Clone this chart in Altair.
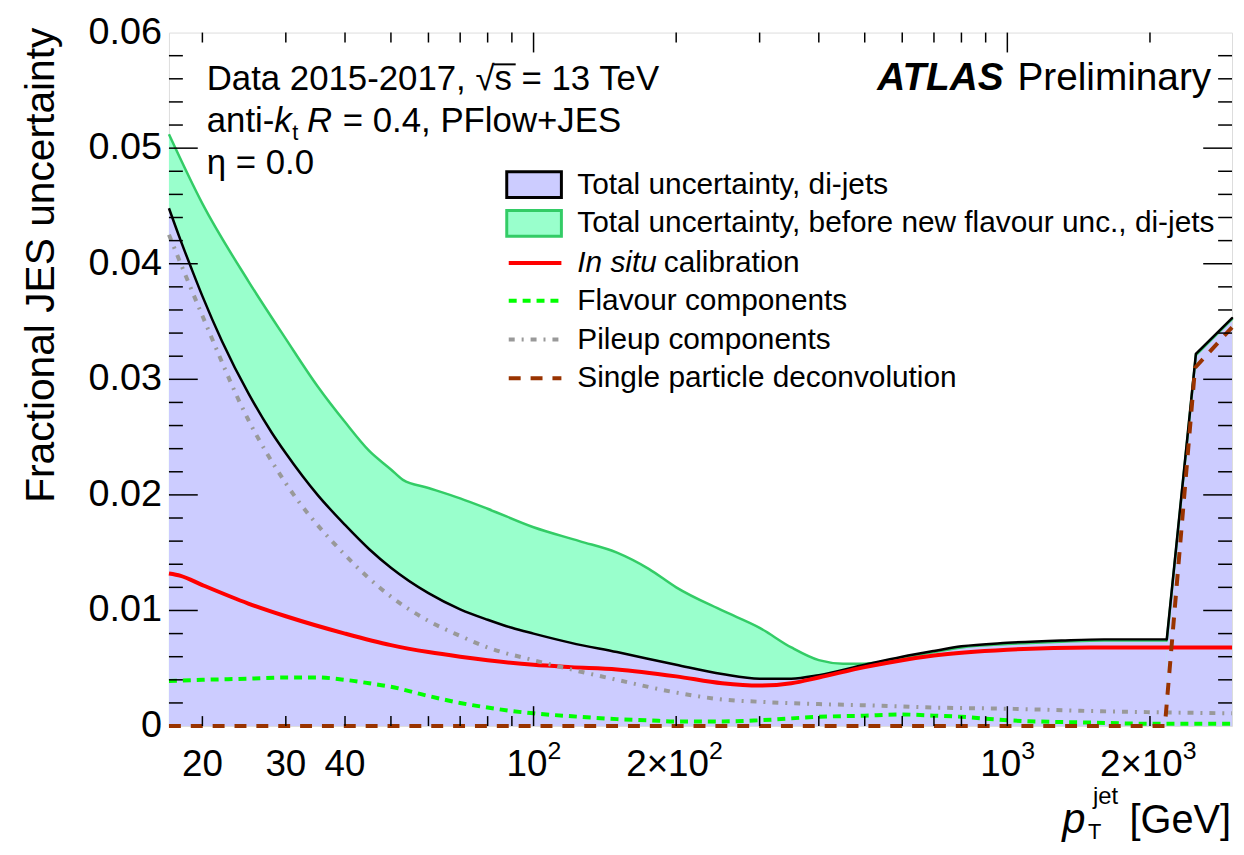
import altair as alt
import pandas as pd

FONT = "Liberation Sans"
W, H = 1070, 698

# ---------------- data ----------------
pt_total = [17, 18, 19, 20, 22, 25, 28, 30, 35, 40, 45, 50, 60, 70, 80, 90, 100, 120, 150, 200, 250, 300,
            350, 400, 500, 600, 700, 800, 1000, 1300, 1600, 2000, 2170, 2500, 2980]
total = [0.0448, 0.0420, 0.0395, 0.0372, 0.0333, 0.0288, 0.0254, 0.0236, 0.0200, 0.0174, 0.0153, 0.0137,
         0.0115, 0.0101, 0.0092, 0.0085, 0.0080, 0.0072, 0.0064, 0.0053, 0.0045, 0.0041, 0.0041, 0.0044,
         0.0053, 0.0060, 0.0065, 0.0069, 0.0072, 0.0074, 0.0075, 0.0075, 0.0075, 0.0322, 0.0353]

pt_before = [17, 20, 25, 30, 35, 40, 45, 50, 53, 60, 70, 80, 100, 125, 150, 175, 200, 250, 300, 350, 400,
             450, 500, 600, 700, 800, 1000, 1300, 1600, 2000, 2170, 2500, 2980]
before = [0.0512, 0.0452, 0.0385, 0.0335, 0.0294, 0.0263, 0.0238, 0.0222, 0.0213, 0.0206, 0.0197, 0.0188,
          0.0172, 0.0160, 0.0150, 0.0136, 0.0120, 0.0100, 0.0085, 0.0068, 0.0057, 0.0054, 0.0054, 0.0059,
          0.0064, 0.0068, 0.0071, 0.0073, 0.0074, 0.0074, 0.0074, 0.0321, 0.0352]

pt_insitu = [17, 18, 20, 25, 30, 40, 50, 60, 70, 80, 100, 120, 150, 200, 250, 300, 350, 400, 500, 600, 700,
             1000, 1500, 2000, 2980]
insitu = [0.0132, 0.0130, 0.0122, 0.0106, 0.0095, 0.0080, 0.0070, 0.0064, 0.0060, 0.0057, 0.0053, 0.0051,
          0.0049, 0.0043, 0.0037, 0.0035, 0.0037, 0.0042, 0.0051, 0.0057, 0.0061, 0.0066, 0.0068, 0.0068,
          0.0068]

pt_flavour = [17, 20, 25, 30, 35, 40, 45, 50, 60, 70, 80, 90, 100, 125, 150, 175, 200, 250, 300, 400, 500,
              600, 700, 800, 1000, 1500, 2000, 2980]
flavour = [0.0039, 0.0040, 0.0041, 0.0042, 0.0042, 0.0040, 0.0037, 0.0034, 0.0026, 0.0020, 0.0016, 0.0013,
           0.0011, 0.0008, 0.0006, 0.0005, 0.0004, 0.0004, 0.0005, 0.0008, 0.0009, 0.0010, 0.0009, 0.0008,
           0.0005, 0.0003, 0.0002, 0.0002]

pt_pileup = [17, 20, 25, 30, 40, 50, 60, 70, 80, 100, 120, 150, 200, 250, 300, 400, 500, 700, 1000, 1500,
             2000, 2980]
pileup = [0.0425, 0.0355, 0.0265, 0.0210, 0.0148, 0.0112, 0.0091, 0.0078, 0.0068, 0.0057, 0.0049, 0.0040,
          0.0029, 0.0023, 0.0021, 0.0019, 0.0018, 0.0016, 0.0015, 0.0013, 0.0012, 0.0011]

pt_spd = [17, 2150, 2490, 2980]
spd = [0.0, 0.0, 0.0310, 0.0345]

KINK = 2170  # above this pT the totals rise in straight segments

# axis ticks / labels
x_plain_vals = [20, 30, 40]
x_plain_text = ["20", "30", "40"]
x_pow_vals = [100, 1000]
x_pow_exp = ["2", "3"]
x_two_vals = [200, 2000]
x_two_exp = ["2", "3"]
x_major_ticks = [100, 1000]
x_minor_ticks = [20, 30, 40, 50, 60, 70, 80, 90, 200, 300, 400, 500, 600, 700, 800, 900, 2000]
y_label_vals = [0.0, 0.01, 0.02, 0.03, 0.04, 0.05, 0.06]
y_label_text = ["0", "0.01", "0.02", "0.03", "0.04", "0.05", "0.06"]
y_minor_ticks = [round(0.002 * i, 3) for i in range(1, 30) if i % 5 != 0]

legend_labels = ["Total uncertainty, di-jets",
                 "Total uncertainty, before new flavour unc., di-jets",
                 "calibration",
                 "Flavour components",
                 "Pileup components",
                 "Single particle deconvolution"]

# ---------------- chart ----------------
xs = alt.Scale(type="log", domain=[17, 2980], nice=False)
ys = alt.Scale(domain=[0, 0.06], nice=False, zero=False)


def sdf(pt, v):
    return pd.DataFrame({"pt": pt, "v": v})


def XE():
    return alt.X("pt:Q", scale=xs, axis=None)


def YE():
    return alt.Y("v:Q", scale=ys, axis=None)


def split(pt, v):
    d = sdf(pt, v)
    return d[d.pt <= KINK], d[d.pt >= KINK]


def area_pair(pt, v, color):
    lo, hi = split(pt, v)
    return [alt.Chart(lo).mark_area(color=color, interpolate="monotone").encode(XE(), YE()),
            alt.Chart(hi).mark_area(color=color).encode(XE(), YE())]


def line_pair(pt, v, color, width):
    lo, hi = split(pt, v)
    return [alt.Chart(lo).mark_line(color=color, strokeWidth=width, interpolate="monotone").encode(XE(), YE()),
            alt.Chart(hi).mark_line(color=color, strokeWidth=width, strokeCap="round").encode(XE(), YE())]


layers = []
layers += area_pair(pt_before, before, "#99ffcc")
layers += area_pair(pt_total, total, "#ccccff")
layers += line_pair(pt_before, before, "#33cc66", 2.5)
layers += line_pair(pt_total, total, "black", 2.5)
layers.append(alt.Chart(sdf(pt_insitu, insitu)).mark_line(color="#ff0000", strokeWidth=4,
                                                         interpolate="monotone").encode(XE(), YE()))
layers.append(alt.Chart(sdf(pt_flavour, flavour)).mark_line(color="#00ff00", strokeWidth=4, strokeDash=[8, 6],
                                                           interpolate="monotone").encode(XE(), YE()))
layers.append(alt.Chart(sdf(pt_pileup, pileup)).mark_line(color="#999999", strokeWidth=4,
                                                         strokeDash=[6, 7, 2, 7],
                                                         interpolate="monotone").encode(XE(), YE()))
layers.append(alt.Chart(sdf(pt_spd, spd)).mark_line(color="#993300", strokeWidth=4, strokeDash=[12, 10])
              .encode(XE(), YE()))


# ticks (inward, on all four sides)
def xticks(vals, length):
    d = pd.DataFrame({"pt": vals})
    b = alt.Chart(d).mark_rule(color="black", strokeWidth=1.5).encode(
        x=XE(), y=alt.value(H), y2=alt.value(H - length))
    t = alt.Chart(d).mark_rule(color="black", strokeWidth=1.5).encode(
        x=XE(), y=alt.value(0), y2=alt.value(length))
    return [b, t]


def yticks(vals, length):
    d = pd.DataFrame({"v": vals})
    l = alt.Chart(d).mark_rule(color="black", strokeWidth=1.5).encode(
        y=YE(), x=alt.value(0), x2=alt.value(length))
    r = alt.Chart(d).mark_rule(color="black", strokeWidth=1.5).encode(
        y=YE(), x=alt.value(W), x2=alt.value(W - length))
    return [l, r]


layers += xticks(x_major_ticks, 20) + xticks(x_minor_ticks, 10)
layers += yticks(y_label_vals[1:-1], 29) + yticks(y_minor_ticks, 14)

# tick labels
LBL_Y = H + 50
SUP_Y = H + 33


def xlab(vals, texts, size, y, align, dx):
    return alt.Chart(pd.DataFrame({"pt": vals, "t": texts})).mark_text(
        font=FONT, fontSize=size, align=align, baseline="alphabetic", dx=dx).encode(
        x=XE(), y=alt.value(y), text="t:N")


layers.append(xlab(x_plain_vals, x_plain_text, 37, LBL_Y, "center", 0))
layers.append(xlab(x_pow_vals, ["10"] * len(x_pow_vals), 37, LBL_Y, "right", 14))
layers.append(xlab(x_pow_vals, x_pow_exp, 25, SUP_Y, "left", 14))
layers.append(xlab(x_two_vals, ["2×10"] * len(x_two_vals), 37, LBL_Y, "right", 33))
layers.append(xlab(x_two_vals, x_two_exp, 25, SUP_Y, "left", 33))

layers.append(alt.Chart(pd.DataFrame({"v": y_label_vals, "t": y_label_text})).mark_text(
    font=FONT, fontSize=38, align="right", baseline="middle").encode(
    y=YE(), x=alt.value(-7), text="t:N"))


def label(text, x, y, size, align="left", baseline="alphabetic", style="normal", weight="normal", angle=0):
    return alt.Chart(pd.DataFrame({"t": [text]})).mark_text(
        font=FONT, fontSize=size, align=align, baseline=baseline, fontStyle=style,
        fontWeight=weight, angle=angle, color="black").encode(
        x=alt.value(x), y=alt.value(y), text="t:N")


# axis titles
layers.append(label("Fractional JES uncertainty", -128, -5, 41, align="right", baseline="middle", angle=270))
layers.append(label("p", 899, 806, 42, style="italic"))
layers.append(label("jet", 930, 776, 24))
layers.append(label("T", 925, 812, 22))
layers.append(label("[GeV]", 1069, 806, 40, align="right"))

# annotations
layers.append(label("Data 2015-2017, √s = 13 TeV", 38, 58, 35))
layers.append(alt.Chart(pd.DataFrame({"a": [0]})).mark_rule(color="black", strokeWidth=2).encode(
    x=alt.value(327), x2=alt.value(349), y=alt.value(32)))
layers.append(label("anti-", 38, 100, 35))
layers.append(label("k", 106, 100, 35, style="italic"))
layers.append(label("t", 124, 108, 22))
layers.append(label("R", 139, 100, 35, style="italic"))
layers.append(label("= 0.4, PFlow+JES", 175, 100, 35))
layers.append(label("η = 0.0", 38, 142, 35))
layers.append(label("Preliminary", 1049, 58, 39, align="right"))
layers.append(label("ATLAS", 840, 58, 39, align="right", style="italic", weight="bold"))

# legend
rows = [153, 192, 232, 270, 309, 348]
sx0, sx1, tx = 340, 395, 411


def swatch(y, fill, stroke):
    return alt.Chart(pd.DataFrame({"a": [0]})).mark_rect(fill=fill, stroke=stroke, strokeWidth=3).encode(
        x=alt.value(sx0), x2=alt.value(sx1), y=alt.value(y - 13), y2=alt.value(y + 13))


def lline(y, color, dash=None):
    kw = dict(color=color, strokeWidth=4)
    if dash:
        kw["strokeDash"] = dash
    return alt.Chart(pd.DataFrame({"a": [0]})).mark_rule(**kw).encode(
        x=alt.value(sx0 + 2), x2=alt.value(sx1), y=alt.value(y))


layers.append(swatch(rows[0], "#ccccff", "black"))
layers.append(swatch(rows[1], "#99ffcc", "#33cc66"))
layers.append(lline(rows[2], "#ff0000"))
layers.append(lline(rows[3], "#00ff00", [8, 6]))
layers.append(lline(rows[4], "#999999", [6, 7, 2, 7]))
layers.append(lline(rows[5], "#993300", [12, 10]))
for i, lab in enumerate(legend_labels):
    if i == 2:
        layers.append(label("In situ", tx, rows[i], 30, baseline="middle", style="italic"))
        layers.append(label(lab, tx + 87, rows[i], 30, baseline="middle"))
    else:
        layers.append(label(lab, tx, rows[i], 30, baseline="middle"))

chart = alt.layer(*layers).properties(
    width=W, height=H,
    padding={"left": 162, "top": 22, "right": 4, "bottom": 119},
    autosize=alt.AutoSizeParams(type="none"),
).configure_view(stroke="black", strokeWidth=2.5).configure(background="white")

chart.save("out.html", embed_options={"renderer": "svg", "actions": False})
